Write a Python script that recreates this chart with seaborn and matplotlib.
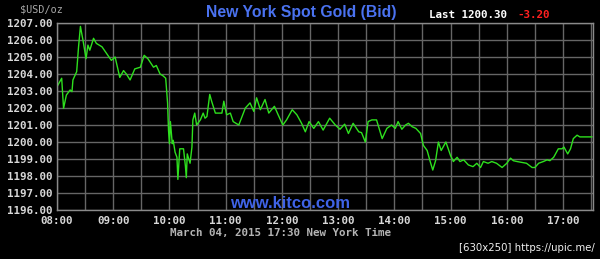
import matplotlib
matplotlib.use("Agg")
import matplotlib.pyplot as plt
import seaborn as sns
import pandas as pd
import numpy as np

times = ["08:00","08:05","08:07","08:10","08:14","08:16","08:17","08:21","08:23","08:25",
         "08:28","08:31","08:33","08:35","08:39","08:42","08:48","08:53","08:58","09:02",
         "09:07","09:11","09:14","09:18","09:23","09:29","09:33","09:37","09:43","09:46",
         "09:50","09:53","09:56","09:58","09:59","10:00","10:01","10:03","10:04","10:06",
         "10:08","10:09","10:11","10:15","10:17","10:18","10:19","10:22","10:24","10:25",
         "10:27","10:29","10:33","10:36","10:38","10:40","10:43","10:45","10:49","10:56",
         "10:58","11:01","11:05","11:08","11:14","11:21","11:26","11:30","11:33","11:37",
         "11:42","11:46","11:52","11:56","12:01","12:05","12:11","12:16","12:21","12:25",
         "12:29","12:34","12:39","12:44","12:51","12:57","13:02","13:07","13:11","13:16",
         "13:22","13:25","13:29","13:32","13:36","13:41","13:47","13:52","13:57","14:01",
         "14:04","14:08","14:12","14:15","14:19","14:23","14:28","14:31","14:35","14:38",
         "14:41","14:44","14:47","14:50","14:55","15:00","15:03","15:07","15:10","15:14",
         "15:19","15:24","15:28","15:32","15:35","15:40","15:44","15:49","15:55","16:00",
         "16:04","16:07","16:11","16:16","16:21","16:27","16:30","16:34","16:39","16:43",
         "16:46","16:50","16:55","16:59","17:01","17:05","17:08","17:11","17:15","17:18",
         "17:31"]
prices = [1203.25,1203.75,1201.98,1202.76,1203.06,1202.96,1203.65,1204.14,1205.6,1206.8,
          1205.9,1204.9,1205.7,1205.4,1206.1,1205.8,1205.6,1205.2,1204.8,1205.0,
          1203.8,1204.2,1204.0,1203.65,1204.3,1204.4,1205.1,1204.9,1204.4,1204.5,
          1204.0,1203.9,1203.75,1202.3,1200.7,1199.9,1201.2,1199.9,1200.1,1199.4,
          1199.1,1197.8,1199.6,1199.6,1198.6,1197.9,1199.3,1198.75,1199.7,1201.3,
          1201.7,1201.0,1201.3,1201.7,1201.4,1201.5,1202.8,1202.4,1201.7,1201.7,
          1202.4,1201.6,1201.7,1201.2,1201.0,1202.0,1202.3,1201.8,1202.6,1201.9,
          1202.5,1201.7,1202.1,1201.6,1201.0,1201.3,1201.9,1201.6,1201.1,1200.6,
          1201.2,1200.8,1201.2,1200.7,1201.4,1201.0,1200.75,1201.05,1200.5,1201.1,
          1200.6,1200.55,1200.0,1201.2,1201.3,1201.3,1200.2,1200.8,1201.0,1200.8,
          1201.2,1200.75,1201.0,1201.1,1200.9,1200.8,1200.5,1199.8,1199.5,1198.9,
          1198.35,1198.9,1200.0,1199.5,1200.0,1199.2,1198.85,1199.1,1198.85,1198.95,
          1198.65,1198.55,1198.75,1198.5,1198.85,1198.75,1198.85,1198.75,1198.5,1198.75,
          1199.05,1198.9,1198.85,1198.8,1198.75,1198.5,1198.5,1198.75,1198.85,1198.95,
          1198.9,1199.1,1199.6,1199.6,1199.7,1199.3,1199.6,1200.2,1200.4,1200.3,
          1200.3]

x_tick_labels = ["08:00","09:00","10:00","11:00","12:00","13:00","14:00","15:00","16:00","17:00"]
y_ticks = [1196,1197,1198,1199,1200,1201,1202,1203,1204,1205,1206,1207]

def to_min(t):
    h, m = t.split(":")
    return (int(h) - 8) * 60 + int(m)

df = pd.DataFrame({"minute": [to_min(t) for t in times], "price": prices})

sns.set_theme(style="dark")
plt.rcParams["font.family"] = ["DejaVu Sans"]

fig = plt.figure(figsize=(6.0, 2.59), dpi=100, facecolor="black")
ax = fig.add_axes([57/600, 1 - 210/259, (593 - 57)/600, (210 - 23)/259])
ax.set_facecolor("black")

sns.lineplot(data=df, x="minute", y="price", ax=ax, color="#2ee01e", linewidth=1.0)

ax.set_xlim(0, 572)
ax.set_ylim(1196, 1207)
ax.set_xticks([to_min(t) for t in x_tick_labels])
ax.set_xticklabels(x_tick_labels)
ax.set_xticks(np.arange(30, 572, 60), minor=True)
ax.set_yticks(y_ticks)
ax.set_yticklabels([f"{v:.2f}" for v in y_ticks])

mono = dict(family="DejaVu Sans Mono", weight="bold", size=7.8)
for lab in ax.get_xticklabels() + ax.get_yticklabels():
    lab.set_fontfamily("DejaVu Sans Mono")
    lab.set_fontweight("bold")
    lab.set_fontsize(7.8)
    lab.set_color("#d8d8d8")
ax.tick_params(axis="both", which="both", length=0)
ax.tick_params(axis="x", pad=4.5)
ax.tick_params(axis="y", pad=3.5)
ax.grid(True, which="both", color="#666666", linewidth=1.0)
ax.set_axisbelow(True)
for s in ax.spines.values():
    s.set_color("#8a8a8a")
    s.set_linewidth(1.0)
    s.set_visible(True)
ax.set_xlabel("")
ax.set_ylabel("")

fig.text(301/600, 1 - 12/259, "New York Spot Gold (Bid)", color="#4a72f0",
         fontsize=11.3, fontweight="bold", family="Liberation Sans", ha="center", va="center")
fig.text(429/600, 1 - 15/259, "Last 1200.30", color="#ffffff", ha="left", va="center", **mono)
fig.text(517/600, 1 - 15/259, "-3.20", color="#ff2020", ha="left", va="center", **mono)
fig.text(20/600, 1 - 10/259, "$USD/oz", color="#a8a8a8", ha="left", va="center",
         family="DejaVu Sans Mono", fontsize=7.3)
fig.text(290/600, 1 - 203/259, "www.kitco.com", color="#3f63e6", fontsize=12,
         fontweight="bold", family="Liberation Sans", ha="center", va="center")
fig.text(281/600, 1 - 233/259, "March 04, 2015 17:30 New York Time", color="#b4b4b4",
         ha="center", va="center", family="DejaVu Sans Mono", fontweight="bold", fontsize=7.8)
fig.text(595/600, 1 - 248/259, "[630x250] https://upic.me/", color="#f0f0f0",
         ha="right", va="center", family="DejaVu Sans", fontsize=7.3)

fig.savefig("out.png", dpi=100, facecolor="black")
